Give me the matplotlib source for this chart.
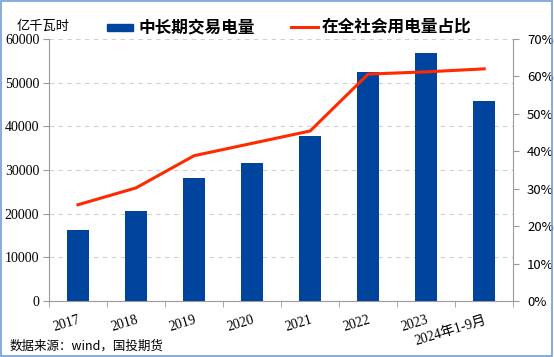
import numpy as np
import matplotlib.pyplot as plt
from matplotlib.patches import Rectangle
from matplotlib.lines import Line2D

plt.rcParams['font.family'] = ['Noto Sans CJK SC', 'DejaVu Sans']

years = ["2017", "2018", "2019", "2020", "2021", "2022", "2023", "2024年1-9月"]
volume = [16300, 20600, 28200, 31600, 37800, 52400, 56800, 45800]
share = [25.7, 30.2, 38.8, 42.1, 45.4, 60.6, 61.2, 62.0]

bar_color = "#00449E"
line_color = "#FF2A00"
axis_grey = "#9A9A9A"

fig = plt.figure(figsize=(5.54, 3.57), dpi=100)
fig.patches.append(Rectangle((0.002, 0.003), 0.995, 0.994, transform=fig.transFigure,
                             fill=False, edgecolor="#6F9ED6", linewidth=1.2))

ax = fig.add_axes([0.0884, 0.157, 0.838, 0.734])
x = np.arange(len(years))

ax.bar(x, volume, width=0.38, color=bar_color, zorder=3)
ax.set_ylim(0, 60000)
ax.set_xlim(-0.5, len(years) - 0.5)
ax.set_yticks(np.arange(0, 60001, 10000))
ax.yaxis.grid(True, linestyle=(0, (4, 4)), color="#D0D0D0", linewidth=0.8)
ax.set_axisbelow(True)

for s in ["top", "right"]:
    ax.spines[s].set_visible(False)
for s in ["left", "bottom"]:
    ax.spines[s].set_color(axis_grey)

ax.tick_params(axis="y", length=4, color=axis_grey, pad=3)
for lbl in ax.get_yticklabels():
    lbl.set_fontfamily("Liberation Serif")
    lbl.set_fontsize(10)

ax.set_xticks(x)
ax.set_xticklabels(years, rotation=17, fontsize=10, ha="right", va="top",
                   rotation_mode="anchor")
for lbl in ax.get_xticklabels():
    lbl.set_fontfamily(["Liberation Serif", "Noto Sans CJK SC"])
ax.set_xticks(np.arange(-0.5, len(years)), minor=True)
ax.tick_params(axis="x", which="major", length=0, pad=9)
ax.tick_params(axis="x", which="minor", length=4, color=axis_grey)

ax2 = ax.twinx()
ax2.plot(x, share, color=line_color, linewidth=2.2, zorder=4)
ax2.set_ylim(0, 70)
ax2.set_yticks(np.arange(0, 71, 10))
ax2.set_yticklabels([f"{v}%" for v in range(0, 71, 10)], fontsize=9.5)
for s in ["top", "left", "bottom"]:
    ax2.spines[s].set_visible(False)
ax2.spines["right"].set_color(axis_grey)
ax2.tick_params(axis="y", length=4, color=axis_grey, pad=6)
ax2.set_zorder(ax.get_zorder() + 1)
ax2.patch.set_visible(False)

fig.text(0.078, 0.925, "亿千瓦时", fontsize=9.5, ha="center", va="center")

# legend
fig.patches.append(Rectangle((107 / 554, 1 - 31 / 357), 26 / 554, 7 / 357,
                             transform=fig.transFigure, color=bar_color))
fig.text(139 / 554, 1 - 27 / 357, "中长期交易电量", fontsize=12, fontweight="bold",
         style="italic", va="center")
fig.lines.append(Line2D([291 / 554, 318 / 554], [1 - 27 / 357] * 2, transform=fig.transFigure,
                        color=line_color, linewidth=2.2))
fig.text(322 / 554, 1 - 27 / 357, "在全社会用电量占比", fontsize=12, fontweight="bold",
         style="italic", va="center")

fig.text(10 / 554, 1 - 346 / 357, "数据来源：wind，国投期货", fontsize=9, va="center")

fig.savefig("out.png", dpi=100)
